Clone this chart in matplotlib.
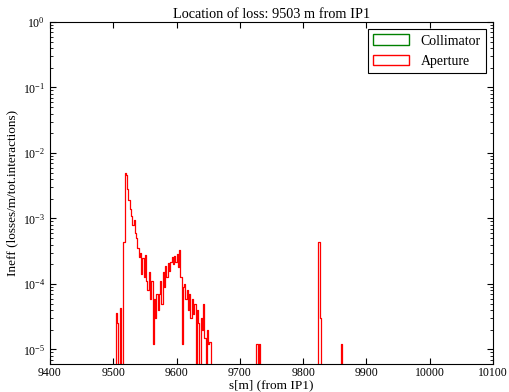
import numpy as np
import matplotlib
matplotlib.use("Agg")
import matplotlib.pyplot as plt
from matplotlib.patches import Patch

# ---- data (2 m bins, bin start positions in m from IP1) ----
bin_start = [9504, 9506, 9510,
             9516, 9518, 9520, 9522, 9524, 9526, 9528, 9530, 9532, 9534,
             9536, 9538, 9540, 9542, 9544, 9546, 9548, 9550, 9552, 9554,
             9556, 9558, 9560, 9562, 9564, 9566, 9568, 9570, 9572, 9574,
             9576, 9578, 9580, 9582, 9584, 9586, 9588, 9590, 9592, 9594,
             9596, 9598, 9600, 9602, 9604, 9606, 9608, 9610, 9612, 9614,
             9616, 9618, 9620, 9622, 9624, 9626, 9628, 9632, 9634, 9638,
             9640, 9642, 9644, 9648, 9650, 9652,
             9726, 9730, 9824, 9826, 9860]
aperture = [3.6e-5, 2.5e-5, 4.3e-5,
            4.4e-4, 4.9e-3, 4.6e-3, 2.8e-3, 1.9e-3, 1.4e-3, 1.1e-3, 8.0e-4, 9.5e-4, 6.0e-4,
            5.0e-4, 3.5e-4, 2.6e-4, 3.0e-4, 1.4e-4, 2.5e-4, 1.3e-4, 2.8e-4, 1.1e-4, 8.0e-5,
            1.5e-4, 6.0e-5, 1.1e-4, 1.2e-5, 6.0e-5, 3.0e-5, 7.0e-5, 4.0e-5, 7.0e-5, 1.1e-4,
            5.0e-5, 1.5e-4, 9.0e-5, 1.9e-4, 1.3e-4, 2.1e-4, 1.6e-4, 2.2e-4, 2.6e-4, 2.0e-4,
            2.7e-4, 2.2e-4, 2.9e-4, 1.8e-4, 3.3e-4, 1.3e-4, 1.2e-5, 9.0e-5, 1.0e-4, 6.0e-5,
            8.0e-5, 4.0e-5, 7.0e-5, 3.0e-5, 6.0e-5, 3.5e-5, 5.0e-5, 4.0e-5, 2.5e-5, 3.0e-5,
            2.0e-5, 5.0e-5, 1.5e-5, 2.0e-5, 1.2e-5, 1.3e-5,
            1.2e-5, 1.2e-5, 4.3e-4, 3.0e-5, 1.2e-5]
bin_width = 2
xlim = (9400, 10100)
ylim = (6e-6, 1.0)
xticks = [9400, 9500, 9600, 9700, 9800, 9900, 10000, 10100]

# ---- build histograms ----
edges = np.arange(xlim[0], xlim[1] + bin_width, bin_width)
ap_vals = np.zeros(len(edges))
for s, v in zip(bin_start, aperture):
    ap_vals[int((s - xlim[0]) // bin_width)] = v
coll_vals = np.zeros(len(edges))

plt.rcParams['font.family'] = ['Liberation Serif', 'DejaVu Serif']
plt.rcParams['mathtext.fontset'] = 'stix'

fig = plt.figure(figsize=(5.09, 3.92), dpi=100)
ax = fig.add_axes([50/509, 28/392, 443/509, 342/392])

ax.step(edges, coll_vals, where='post', color='g', lw=0.9)
ax.step(edges, ap_vals, where='post', color='r', lw=0.9)

ax.set_yscale('log', nonpositive='clip')
ax.set_xlim(*xlim)
ax.set_ylim(*ylim)
ax.set_xticks(xticks)
ax.set_xticklabels([str(t) for t in xticks])
ax.tick_params(which='both', direction='in', top=True, right=True, labelsize=8.5)
ax.tick_params(axis='x', pad=2.5)
ax.tick_params(which='major', length=4)
ax.tick_params(which='minor', length=2)

ax.set_title('Location of loss: 9503 m from IP1', fontsize=10.3, pad=3)
ax.set_xlabel('s[m] (from IP1)', fontsize=9.5, labelpad=0)
ax.set_ylabel('Ineff (losses/m/tot.interactions)', fontsize=9.5, labelpad=3)

handles = [Patch(facecolor='none', edgecolor='g', label='Collimator'),
           Patch(facecolor='none', edgecolor='r', label='Aperture')]
leg = ax.legend(handles=handles, loc='upper right', fontsize=10,
                fancybox=False, framealpha=1, edgecolor='black',
                handlelength=2.6, handleheight=0.8, borderaxespad=0.5,
                labelspacing=0.5, borderpad=0.4)
leg.get_frame().set_linewidth(0.8)

fig.savefig('out.png', dpi=100)
